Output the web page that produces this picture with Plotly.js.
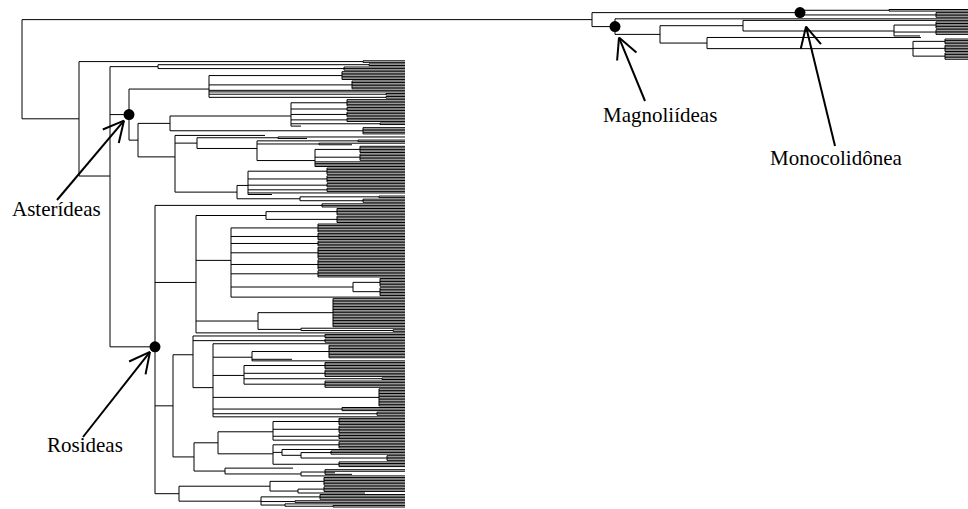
<!DOCTYPE html>
<html>
<head>
<meta charset="utf-8">
<script src="https://cdn.plot.ly/plotly-3.0.1.min.js"></script>
<style>html,body{margin:0;padding:0;background:#fff;}#chart{width:968px;height:509px;}</style>
</head>
<body>
<div id="chart"></div>
<script>
// ---- DATA: tree topology with node depths (after ")" or for tips) ----
// "k*x" = k sibling tips ending at depth x; "#key" marks a labelled clade
const monocotTree  = "((2*968)889,(4*968)936)800#mono";
const magnoliidTree = "(968,((968,((5*968)936,(4*968)936,920)894)743,(921,((4*968)945,(5*968)945,(5*968)945)913)707)660)615#magno";
const basalEudicotTree = "(2*405)363";
const earlyEudicotTree = "((2*405)369,(3*405)344)158";
const asteridTree = "(((6*405)342,(6*405)352,405,405,(2*405)386,(2*405)386)209,((((5*405)347,(3*405)347,(4*405)347,(3*405)347,(2*405)380,301)291,(5*405)363)170,(265,((405,307)278,((2*405)358,(405,352)319,((5*405)360,(5*405)360,405,405,405,405)315)257)197,(((5*405)327,(5*405)327,(3*405)327,(3*405)327,405,272)248,((2*405)379,(3*405)363)300)237)175)138)129#aster";
const rosidTree = "((3*405)322,(((5*405)337,(5*405)337)266,((6*405)318,(5*405)318,(4*405)318,(8*405)318,(7*405)318,(5*405)318,((6*405)380,(6*405)380)353,405)231,((19*405)333,(405,(2*405)393)301)258,405)196,(((3*405)325,(3*405)325,(405,((9*405)329,292,405)252,((5*405)325,(5*405)325,(2*405)382,(5*405)325)244,(12*405)379,(3*405)342,(3*405)377,405)213)193,((((5*405)339,(5*405)339,(4*405)339,405)273,((5*405)339,(405,((3*405)331,(4*405)387)301)282,(4*405)339)273)218,(293,((405,405,335,352)325,405)301)225)194)173,(((6*405)324,((4*405)324,365)298)270,((4*405)320,(2*405)295,(405,(2*405)333)285)261)179)155#rosid";
const mmDepth = 592, eudicotDepth = 79, coreEudicotDepth = 110, rootDepth = 22;

const cladeKeys   = ["aster", "rosid", "magno", "mono"];
const cladeLabels = ["Asterídeas", "Rosideas", "Magnoliídeas", "Monocolidônea"];

// ---- assemble & parse ----
const newick = "((" + monocotTree + "," + magnoliidTree + ")" + mmDepth +
  ",(" + basalEudicotTree + ",(" + earlyEudicotTree + "," + asteridTree + "," + rosidTree + ")" +
  coreEudicotDepth + ")" + eudicotDepth + ")" + rootDepth;

function parseTree(s) {
  let p = 0;
  function num() { let st = p; while (p < s.length && /[0-9.]/.test(s[p])) p++; return parseFloat(s.slice(st, p)); }
  function key() { if (s[p] === '#') { p++; let st = p; while (p < s.length && /[a-z]/i.test(s[p])) p++; return s.slice(st, p); } return null; }
  function items() {
    if (s[p] === '(') {
      p++;
      const kids = [];
      while (true) {
        kids.push(...items());
        if (s[p] === ',') { p++; continue; }
        if (s[p] === ')') { p++; break; }
        throw new Error("bad tree at " + p);
      }
      const x = num();
      const k = key();
      return [{x: x, children: kids, key: k}];
    }
    const a = num();
    if (s[p] === '*') { p++; const x = num(); const out = []; for (let i = 0; i < a; i++) out.push({x: x}); return out; }
    return [{x: a}];
  }
  return items()[0];
}
const root = parseTree(newick);

// ---- layout: tips equally spaced, internal node at mean of children ----
let tipCount = 0;
function place(n) {
  if (!n.children) { n.y = tipCount++; return; }
  n.children.forEach(place);
  n.y = n.children.reduce((a, c) => a + c.y, 0) / n.children.length;
}
place(root);

const xs = [], ys = [];
const marked = {};
function draw(n) {
  if (n.key) marked[n.key] = n;
  if (!n.children) return;
  const cy = n.children.map(c => c.y);
  xs.push(n.x, n.x, null); ys.push(Math.min(...cy), Math.max(...cy), null);
  n.children.forEach(c => { xs.push(n.x, c.x, null); ys.push(c.y, c.y, null); draw(c); });
}
draw(root);

// vertical mapping: first tip at 9.5px, last tip at 507px
const H = 509, W = 968, topPx = 9.5, botPx = 507;
const s = (botPx - topPx) / (tipCount - 1);
const pxToY = p => (p - topPx) / s;
const yToPx = y => topPx + y * s;

const dotX = cladeKeys.map(k => marked[k].x);
const dotY = cladeKeys.map(k => marked[k].y);

// label placement (pixels)
const labelPos  = [[56, 209], [85, 445], [660, 115], [836, 158]];
const tailPos   = [[57, 200], [83, 437], [645, 101], [835, 146]];
const tipOffset = [[-5, 6], [-5, 5], [4, 11], [6, 14]];

const shapes = [], annotations = [];
cladeKeys.forEach((k, i) => {
  const nx = marked[k].x, ny = yToPx(marked[k].y);
  const tx = nx + tipOffset[i][0], ty = ny + tipOffset[i][1];
  const [ax, ay] = tailPos[i];
  const ang = Math.atan2(ay - ty, ax - tx);
  const L = 23, spread = 27 * Math.PI / 180;
  const segs = [[ax, ay],
    [tx + L * Math.cos(ang + spread), ty + L * Math.sin(ang + spread)],
    [tx + L * Math.cos(ang - spread), ty + L * Math.sin(ang - spread)]];
  segs.forEach(([ex, ey]) => shapes.push({type: 'line', xref: 'x', yref: 'y',
    x0: tx, y0: pxToY(ty), x1: ex, y1: pxToY(ey), line: {color: '#000', width: 2}}));
  annotations.push({x: labelPos[i][0], y: pxToY(labelPos[i][1]), xref: 'x', yref: 'y',
    text: cladeLabels[i], showarrow: false, xanchor: 'center', yanchor: 'middle',
    font: {family: 'Liberation Serif, Times New Roman, serif', size: 21, color: '#000'}});
});

const traces = [
  {type: 'scatter', mode: 'lines', x: xs, y: ys, line: {color: '#000', width: 1}, hoverinfo: 'skip', connectgaps: false},
  {type: 'scatter', mode: 'markers', x: dotX, y: dotY, marker: {color: '#000', size: 11}, hoverinfo: 'skip'}
];

const layout = {
  width: W, height: H,
  margin: {l: 0, r: 0, t: 0, b: 0, pad: 0},
  paper_bgcolor: '#fff', plot_bgcolor: '#fff',
  showlegend: false,
  xaxis: {range: [0, W], visible: false, showgrid: false, zeroline: false},
  yaxis: {range: [pxToY(H), pxToY(0)], visible: false, showgrid: false, zeroline: false},
  shapes: shapes,
  annotations: annotations
};
Plotly.newPlot('chart', traces, layout, {staticPlot: true, displayModeBar: false});
</script>
</body>
</html>
